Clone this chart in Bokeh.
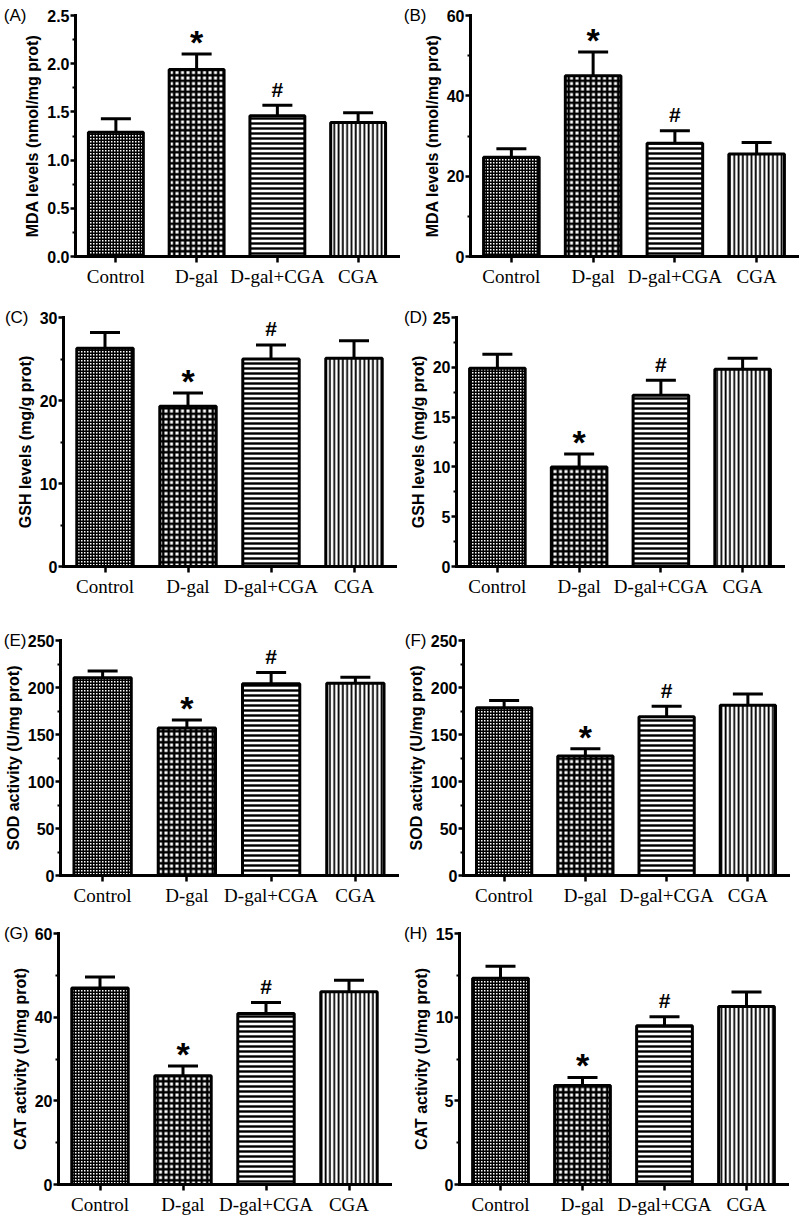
from bokeh.plotting import figure
from bokeh.models import ColumnDataSource, Range1d, FixedTicker, Whisker, TeeHead, LinearAxis
from bokeh.layouts import column, row
from bokeh.embed import file_html
from bokeh.resources import INLINE
from bokeh.core.properties import value

# ---------------- data ----------------
groups = ["Control", "D-gal", "D-gal+CGA", "CGA"]
marks = ["", "*", "#", ""]

panel_letters = ["(A)", "(B)", "(C)", "(D)", "(E)", "(F)", "(G)", "(H)"]
y_labels = ["MDA levels (nmol/mg prot)", "MDA levels (nmol/mg prot)",
            "GSH levels (mg/g prot)", "GSH levels (mg/g prot)",
            "SOD activity (U/mg prot)", "SOD activity (U/mg prot)",
            "CAT activity (U/mg prot)", "CAT activity (U/mg prot)"]

mda_a = [1.29, 1.94, 1.46, 1.39]
mda_a_err = [0.14, 0.16, 0.11, 0.10]
mda_b = [24.7, 45.0, 28.2, 25.5]
mda_b_err = [2.1, 5.9, 3.1, 2.9]
gsh_c = [26.3, 19.3, 25.0, 25.1]
gsh_c_err = [1.9, 1.6, 1.7, 2.1]
gsh_d = [19.9, 10.0, 17.2, 19.8]
gsh_d_err = [1.4, 1.3, 1.5, 1.1]
sod_e = [210.5, 157.0, 204.0, 204.5]
sod_e_err = [7.0, 8.5, 12.0, 6.5]
sod_f = [178.5, 127.0, 169.0, 181.0]
sod_f_err = [7.8, 7.9, 11.0, 12.0]
cat_g = [47.0, 26.0, 40.9, 46.1]
cat_g_err = [2.6, 2.3, 2.6, 2.7]
cat_h = [12.33, 5.91, 9.49, 10.63]
cat_h_err = [0.71, 0.49, 0.54, 0.87]

ticks_a = [0.0, 0.5, 1.0, 1.5, 2.0, 2.5]
tick_labels_a = ["0.0", "0.5", "1.0", "1.5", "2.0", "2.5"]
ticks_b = [0, 20, 40, 60]
tick_labels_b = ["0", "20", "40", "60"]
ticks_c = [0, 10, 20, 30]
tick_labels_c = ["0", "10", "20", "30"]
ticks_d = [0, 5, 10, 15, 20, 25]
tick_labels_d = ["0", "5", "10", "15", "20", "25"]
ticks_e = [0, 50, 100, 150, 200, 250]
tick_labels_e = ["0", "50", "100", "150", "200", "250"]
ticks_f = [0, 50, 100, 150, 200, 250]
tick_labels_f = ["0", "50", "100", "150", "200", "250"]
ticks_g = [0, 20, 40, 60]
tick_labels_g = ["0", "20", "40", "60"]
ticks_h = [0, 5, 10, 15]
tick_labels_h = ["0", "5", "10", "15"]

values = [mda_a, mda_b, gsh_c, gsh_d, sod_e, sod_f, cat_g, cat_h]
errors = [mda_a_err, mda_b_err, gsh_c_err, gsh_d_err, sod_e_err, sod_f_err, cat_g_err, cat_h_err]
ticks = [ticks_a, ticks_b, ticks_c, ticks_d, ticks_e, ticks_f, ticks_g, ticks_h]
tick_labels = [tick_labels_a, tick_labels_b, tick_labels_c, tick_labels_d,
               tick_labels_e, tick_labels_f, tick_labels_g, tick_labels_h]

# ---------------- styles / layout ----------------
bar_styles = [
    dict(hatch_pattern="cross", hatch_scale=3.0, hatch_weight=2.0),
    dict(hatch_pattern="cross", hatch_scale=5.5, hatch_weight=2.5),
    dict(hatch_pattern="horizontal_line", hatch_scale=5.0, hatch_weight=2.4),
    dict(hatch_pattern="vertical_line", hatch_scale=4.3, hatch_weight=1.8),
]
# width, height, min_border left, right, top, bottom, panel-label standoff
layouts = [
    (400, 300, 73, 2, 15, 43, -5),
    (400, 300, 68, 3, 11, 44, -6),
    (400, 312, 63, 5, 17, 46, -15),
    (400, 312, 53, 17, 17, 45, -21),
    (400, 306, 58, 3, 19, 43, -25),
    (400, 306, 63, 12, 28, 43, -22),
    (400, 302, 58, 10, 15, 35, -20),
    (400, 302, 58, 13, 12, 36, -18),
]

SANS = "Liberation Sans"
SERIF = "Liberation Serif"
INK = "black"


def make_panel(k):
    w, h, mbl, mbr, mbt, mbb, lab_standoff = layouts[k]
    vals, errs = values[k], errors[k]
    tk = ticks[k]
    ymax = tk[-1]
    p = figure(x_range=groups, y_range=Range1d(0, ymax), width=w, height=h,
               min_border_left=mbl, min_border_right=mbr, min_border_top=mbt,
               min_border_bottom=mbb, output_backend="svg", toolbar_location=None,
               tools="")
    p.outline_line_color = None
    p.xgrid.visible = False
    p.ygrid.visible = False
    p.background_fill_color = "white"
    p.border_fill_color = "white"

    for i, g in enumerate(groups):
        src = ColumnDataSource(dict(x=[g], top=[vals[i]]))
        p.vbar(x="x", top="top", width=0.68, source=src, fill_color="white",
               line_color=INK, line_width=3, hatch_color=INK, **bar_styles[i])

    upper = [v + e for v, e in zip(vals, errs)]
    esrc = ColumnDataSource(dict(x=groups, lower=vals, upper=upper))
    p.add_layout(Whisker(base="x", lower="lower", upper="upper", source=esrc,
                         dimension="height", line_width=3, line_color=INK,
                         upper_head=TeeHead(size=30, line_width=3, line_color=INK),
                         lower_head=TeeHead(size=0, line_alpha=0)))

    star_x = [g for g, m in zip(groups, marks) if m == "*"]
    star_y = [u for u, m in zip(upper, marks) if m == "*"]
    hash_x = [g for g, m in zip(groups, marks) if m == "#"]
    hash_y = [u for u, m in zip(upper, marks) if m == "#"]
    p.text(x=star_x, y=star_y, text=["*"] * len(star_x), text_font=value(SANS),
           text_font_style="bold", text_font_size="34px", text_align="center",
           text_baseline="middle", y_offset=-12, text_color=INK)
    p.text(x=hash_x, y=hash_y, text=["#"] * len(hash_x), text_font=value(SANS),
           text_font_style="bold", text_font_size="21px", text_align="center",
           text_baseline="middle", y_offset=-16, text_color=INK)

    ya = p.yaxis[0]
    ya.ticker = FixedTicker(ticks=tk, minor_ticks=[(a + b) / 2 for a, b in zip(tk[:-1], tk[1:])])
    ya.major_label_overrides = {t: s for t, s in zip(tk, tick_labels[k])}
    ya.axis_label = y_labels[k]
    ya.axis_label_text_font = SANS
    ya.axis_label_text_font_style = "bold"
    ya.axis_label_text_font_size = "16px"
    ya.axis_label_text_color = INK
    ya.axis_label_standoff = 3
    ya.major_label_text_font = SANS
    ya.major_label_text_font_style = "bold"
    ya.major_label_text_font_size = "16px"
    ya.major_label_text_color = INK
    ya.major_label_standoff = 1
    ya.axis_line_width = 3
    ya.axis_line_color = INK
    ya.axis_line_cap = "square"
    ya.major_tick_line_width = 2.5
    ya.major_tick_line_color = INK
    ya.major_tick_out = 5
    ya.major_tick_in = 0
    ya.minor_tick_line_width = 2
    ya.minor_tick_line_color = INK
    ya.minor_tick_out = 3
    ya.minor_tick_in = 0

    # panel letter, aligned with the top tick, drawn as the only label of an outer axis
    lab_axis = LinearAxis(ticker=FixedTicker(ticks=[ymax], minor_ticks=[]),
                          major_label_overrides={ymax: panel_letters[k]},
                          axis_line_color=None, major_tick_line_color=None,
                          minor_tick_line_color=None, major_tick_out=0, major_tick_in=0,
                          minor_tick_out=0, minor_tick_in=0,
                          major_label_standoff=lab_standoff,
                          major_label_text_font=SANS, major_label_text_font_size="17px",
                          major_label_text_color=INK)
    p.add_layout(lab_axis, "left")

    xa = p.xaxis[0]
    xa.axis_line_width = 3
    xa.axis_line_color = INK
    xa.axis_line_cap = "square"
    xa.major_tick_line_width = 2.5
    xa.major_tick_line_color = INK
    xa.major_tick_out = 6
    xa.major_tick_in = 0
    xa.minor_tick_line_color = None
    xa.major_label_text_font = SERIF
    xa.major_label_text_font_size = "19px"
    xa.major_label_text_color = INK
    xa.major_label_standoff = 3
    xa.major_label_orientation = "horizontal"
    return p


panels = [make_panel(k) for k in range(8)]
page = column(row(panels[0], panels[1]), row(panels[2], panels[3]),
              row(panels[4], panels[5]), row(panels[6], panels[7]))

open("out.html", "w").write(file_html(page, INLINE))
